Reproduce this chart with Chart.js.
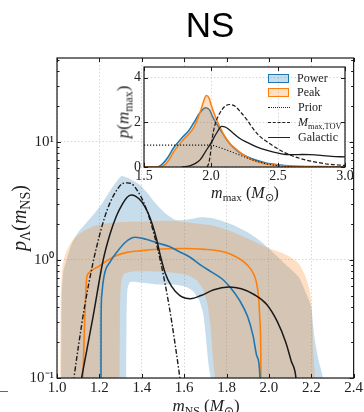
<!DOCTYPE html>
<html>
<head>
<meta charset="utf-8">
<script src="https://cdn.jsdelivr.net/npm/chart.js@4.4.1/dist/chart.umd.min.js"></script>
<style>
body { margin: 0; background: #fff; }
#wrap { position: relative; width: 364px; height: 412px; overflow: hidden; font-family: "Liberation Serif", serif; color: #222; }
canvas { position: absolute; left: 0; top: 0; }
.t { position: absolute; white-space: nowrap; line-height: 1; z-index: 5; }
.t sub { font-size: 70%; vertical-align: -0.3em; line-height: 0; font-style: normal; }
#title { font-family: "Liberation Sans", Arial, sans-serif; font-size: 35px; left: 210px; top: 7px; transform: translateX(-50%); color: #000; }
.lg { position: absolute; left: 268px; height: 14px; line-height: 14px; font-size: 12px; white-space: nowrap; z-index: 6; }
.sw { display: inline-block; width: 19px; height: 7px; vertical-align: middle; margin-right: 8px; margin-top: -2px; }
.ln { display: inline-block; width: 22px; height: 0; vertical-align: middle; margin-right: 8px; margin-top: -2px; }
#dash { position: absolute; left: 0; top: 391px; width: 8px; height: 1px; background: #666; }
</style>
</head>
<body>
<div id="wrap">
  <canvas id="mainChart" width="364" height="412"></canvas>
  <canvas id="insetChart" width="364" height="412"></canvas>
  <div id="title" class="t">NS</div>
  <div class="t" style="left:19px;top:218px;font-size:20px;transform:translate(-50%,-50%) rotate(-90deg);"><i>p</i><sub>Λ</sub>(<i>m</i><sub>NS</sub>)</div>
  <div class="t" style="left:206px;top:397px;font-size:17px;transform:translateX(-50%);"><i>m</i><sub>NS</sub> (<i>M</i><sub>⊙</sub>)</div>
  <div class="t" style="left:123px;top:112px;font-size:17px;transform:translate(-50%,-50%) rotate(-90deg);"><i>p</i>(<i>m</i><sub>max</sub>)</div>
  <div class="t" style="left:245px;top:185px;font-size:16px;transform:translateX(-50%);"><i>m</i><sub>max</sub> (<i>M</i><sub>⊙</sub>)</div>
  <div class="lg" style="top:71px;"><span class="sw" style="background:rgba(31,119,180,0.25);border:1.5px solid #1f77b4;"></span>Power</div>
  <div class="lg" style="top:85px;"><span class="sw" style="background:rgba(255,127,14,0.25);border:1.5px solid #ff7f0e;"></span>Peak</div>
  <div class="lg" style="top:100px;"><span class="ln" style="border-top:1.5px dotted #222;"></span>Prior</div>
  <div class="lg" style="top:115px;"><span class="ln" style="border-top:1.5px dashed #222;"></span><i>M</i><sub style="font-size:70%;vertical-align:-0.3em;line-height:0;">max,TOV</sub></div>
  <div class="lg" style="top:130px;"><span class="ln" style="border-top:1.5px solid #222;"></span>Galactic</div>
  <div id="dash"></div>
</div>
<script>
// valeur "sous l'axe" pour fermer les bandes et les courbes en bas (echelle log)
const BOT = 0.01;

// ticks
const mainTicksX = [1.0, 1.2, 1.4, 1.6, 1.8, 2.0, 2.2, 2.4];
const mainTicksY = [0.1, 1, 10];
const mainLabelsY = ['10⁻¹', '10⁰', '10¹'];
const mainMinorY = [0.2, 0.3, 0.4, 0.5, 0.6, 0.7, 0.8, 0.9, 2, 3, 4, 5, 6, 7, 8, 9, 20, 30, 40, 50];
const insetTicksX = [1.5, 2.0, 2.5, 3.0];
const insetTicksY = [0, 2, 4];

// graphique principal : bandes (bord haut / bord bas) [m_NS, p]
const powerBandUpper = [[1.018, BOT], [1.022, 0.5], [1.03, 0.8], [1.045, 1.0], [1.07, 1.38], [1.1, 1.72], [1.14, 2.08], [1.2, 2.8], [1.25, 3.85], [1.28, 4.6], [1.305, 5.15], [1.33, 5.0], [1.36, 4.7], [1.39, 4.35], [1.43, 3.65], [1.46, 3.1], [1.51, 2.5], [1.56, 2.18], [1.62, 2.2], [1.68, 2.3], [1.74, 2.25], [1.82, 2.02], [1.9, 1.72], [1.96, 1.45], [2.0, 1.25], [2.07, 0.95], [2.14, 0.72], [2.18, 0.5], [2.2, 0.4], [2.215, 0.22], [2.235, 0.14], [2.255, 0.1], [2.265, BOT]];
const powerBandLower = [[1.325, BOT], [1.328, 0.3], [1.332, 0.55], [1.345, 0.65], [1.4, 0.64], [1.47, 0.62], [1.55, 0.62], [1.6, 0.6], [1.64, 0.55], [1.67, 0.46], [1.69, 0.35], [1.703, 0.22], [1.715, 0.13], [1.725, 0.1], [1.73, BOT]];
const peakBandUpper = [[1.013, BOT], [1.018, 0.5], [1.026, 0.9], [1.04, 1.12], [1.06, 1.35], [1.085, 1.55], [1.13, 1.78], [1.18, 1.95], [1.23, 2.04], [1.31, 2.1], [1.4, 2.12], [1.54, 2.15], [1.65, 2.05], [1.74, 1.95], [1.82, 1.75], [1.9, 1.52], [1.98, 1.3], [2.06, 1.15], [2.1, 1.06], [2.14, 0.94], [2.17, 0.75], [2.19, 0.58], [2.2, 0.45], [2.205, 0.28], [2.21, 0.16], [2.218, 0.1], [2.225, BOT]];
const peakBandLower = [[1.293, BOT], [1.297, 0.35], [1.302, 0.62], [1.315, 0.76], [1.36, 0.8], [1.45, 0.8], [1.55, 0.78], [1.62, 0.74], [1.66, 0.67], [1.69, 0.56], [1.71, 0.42], [1.725, 0.27], [1.737, 0.14], [1.745, 0.1], [1.75, BOT]];

// graphique principal : courbes
const powerLine = [[1.207, BOT], [1.208, 0.3], [1.211, 0.5], [1.217, 0.64], [1.227, 0.8], [1.25, 0.96], [1.28, 1.15], [1.32, 1.4], [1.35, 1.53], [1.37, 1.56], [1.42, 1.5], [1.47, 1.4], [1.53, 1.3], [1.58, 1.17], [1.63, 1.05], [1.68, 0.9], [1.73, 0.79], [1.78, 0.69], [1.82, 0.58], [1.86, 0.46], [1.9, 0.33], [1.925, 0.23], [1.945, 0.15], [1.958, 0.1], [1.962, BOT]];
const peakLine = [[1.101, BOT], [1.122, 0.1], [1.14, 0.7], [1.148, 0.77], [1.17, 0.83], [1.2, 0.89], [1.23, 0.97], [1.27, 1.07], [1.33, 1.16], [1.4, 1.2], [1.5, 1.24], [1.6, 1.25], [1.7, 1.23], [1.77, 1.19], [1.82, 1.12], [1.87, 1.0], [1.9, 0.9], [1.925, 0.78], [1.94, 0.66], [1.952, 0.47], [1.958, 0.3], [1.962, 0.15], [1.964, BOT]];
const galacticLine = [[1.014, BOT], [1.116, 0.1], [1.17, 0.33], [1.218, 1.0], [1.25, 1.65], [1.28, 2.35], [1.31, 3.0], [1.33, 3.38], [1.35, 3.55], [1.37, 3.48], [1.4, 3.12], [1.43, 2.5], [1.45, 2.0], [1.47, 1.5], [1.49, 1.05], [1.51, 0.78], [1.54, 0.6], [1.58, 0.5], [1.63, 0.47], [1.68, 0.5], [1.74, 0.56], [1.81, 0.59], [1.87, 0.57], [1.93, 0.51], [1.99, 0.42], [2.04, 0.3], [2.08, 0.2], [2.105, 0.14], [2.128, 0.1], [2.17, BOT]];
const dashDotLine = [[0.99, BOT], [1.06, 0.054], [1.08, 0.1], [1.1, 0.18], [1.13, 0.4], [1.17, 0.95], [1.2, 1.6], [1.225, 2.3], [1.25, 3.05], [1.28, 3.86], [1.31, 4.45], [1.33, 4.5], [1.35, 4.45], [1.38, 3.86], [1.41, 3.05], [1.435, 2.3], [1.46, 1.6], [1.49, 0.95], [1.53, 0.4], [1.56, 0.18], [1.58, 0.1], [1.6, 0.054], [1.67, BOT]];

// encart : p(m_max)
const insetPower = [[1.5, 0], [1.6, 0], [1.64, 0.15], [1.68, 0.45], [1.72, 0.85], [1.79, 1.35], [1.83, 1.6], [1.87, 1.97], [1.92, 2.45], [1.96, 2.65], [1.99, 2.55], [2.01, 2.28], [2.05, 1.85], [2.08, 1.57], [2.12, 1.2], [2.16, 0.92], [2.21, 0.66], [2.27, 0.46], [2.34, 0.3], [2.41, 0.18], [2.5, 0.1], [2.6, 0.05], [2.8, 0.02], [3.0, 0.01]];
const insetPeak = [[1.5, 0], [1.62, 0], [1.66, 0.12], [1.69, 0.35], [1.72, 0.67], [1.79, 1.2], [1.83, 1.45], [1.87, 1.75], [1.92, 2.47], [1.945, 2.95], [1.965, 3.2], [1.985, 3.1], [2.0, 2.8], [2.03, 2.3], [2.07, 1.75], [2.1, 1.4], [2.14, 1.06], [2.18, 0.84], [2.22, 0.64], [2.27, 0.44], [2.31, 0.31], [2.38, 0.18], [2.46, 0.1], [2.55, 0.05], [2.7, 0.01], [3.0, 0]];
const insetPrior = [[1.5, 0.98], [1.7, 0.98], [1.9, 0.98], [2.0, 0.98], [2.05, 0.9], [2.1, 0.8], [2.16, 0.66], [2.22, 0.52], [2.28, 0.38], [2.34, 0.26], [2.4, 0.16], [2.46, 0.09], [2.52, 0.04], [2.6, 0.01], [2.7, 0], [3.0, 0]];
const insetTOV = [[1.97, 0], [1.985, 0.2], [2.0, 0.8], [2.01, 1.3], [2.03, 1.9], [2.06, 2.35], [2.1, 2.7], [2.14, 2.8], [2.18, 2.72], [2.22, 2.47], [2.27, 2.1], [2.31, 1.75], [2.36, 1.4], [2.42, 1.12], [2.48, 0.88], [2.54, 0.67], [2.62, 0.47], [2.71, 0.31], [2.8, 0.2], [2.87, 0.13], [2.95, 0.09], [3.0, 0.07]];
const insetGalactic = [[1.78, 0], [1.84, 0.05], [1.88, 0.15], [1.92, 0.33], [1.96, 0.7], [2.0, 1.08], [2.04, 1.5], [2.08, 1.82], [2.11, 1.78], [2.16, 1.55], [2.21, 1.3], [2.27, 1.1], [2.34, 0.9], [2.42, 0.74], [2.5, 0.62], [2.56, 0.56], [2.62, 0.55], [2.68, 0.56], [2.74, 0.55], [2.82, 0.52], [2.9, 0.48], [3.0, 0.45]];

const BLUE = '#1f77b4';
const ORANGE = '#ff7f0e';
const BLUE_FILL = 'rgba(31,119,180,0.25)';
const ORANGE_FILL = 'rgba(255,127,14,0.25)';
const INK = '#1a1a1a';
const GRID = 'rgba(0,0,0,0.2)';
const TICK_FONT = 'Liberation Serif';

function pts(arr) {
    return arr.map(p => ({ x: p[0], y: p[1] }));
}

// contour ferme : bord haut de gauche a droite puis bord bas a l'envers
function bande(upper, lower) {
    return pts(upper.concat(lower.slice().reverse()));
}

function courbe(data, color, width, dash, order) {
    return {
        data: pts(data),
        borderColor: color,
        borderWidth: width,
        borderDash: dash,
        pointRadius: 0,
        fill: false,
        cubicInterpolationMode: 'monotone',
        order: order
    };
}

// cadre + petits ticks vers l'interieur (style matplotlib)
const cadreTicks = {
    id: 'cadreTicks',
    afterDatasetsDraw(chart, args, o) {
        const { ctx, chartArea: a } = chart;
        const xs = chart.scales.x, ys = chart.scales.y;
        ctx.save();
        ctx.strokeStyle = INK;
        ctx.lineWidth = 1;
        ctx.beginPath();
        o.xMajor.forEach(v => {
            const px = Math.round(xs.getPixelForValue(v)) + 0.5;
            ctx.moveTo(px, a.bottom); ctx.lineTo(px, a.bottom - 4);
            ctx.moveTo(px, a.top); ctx.lineTo(px, a.top + 4);
        });
        o.yMajor.forEach(v => {
            const py = Math.round(ys.getPixelForValue(v)) + 0.5;
            ctx.moveTo(a.left, py); ctx.lineTo(a.left + 4, py);
            ctx.moveTo(a.right, py); ctx.lineTo(a.right - 4, py);
        });
        (o.yMinor || []).forEach(v => {
            const py = Math.round(ys.getPixelForValue(v)) + 0.5;
            ctx.moveTo(a.left, py); ctx.lineTo(a.left + 2.5, py);
            ctx.moveTo(a.right, py); ctx.lineTo(a.right - 2.5, py);
        });
        ctx.stroke();
        ctx.lineWidth = 1.2;
        ctx.strokeRect(a.left, a.top, a.right - a.left, a.bottom - a.top);
        ctx.restore();
    }
};

// fond blanc de l'encart
const fondBlanc = {
    id: 'fondBlanc',
    beforeDraw(chart) {
        const { ctx, chartArea: a } = chart;
        ctx.save();
        ctx.fillStyle = '#fff';
        ctx.fillRect(a.left, a.top, a.right - a.left, a.bottom - a.top);
        ctx.restore();
    }
};

// ---- graphique principal ----
new Chart(document.getElementById('mainChart'), {
    type: 'line',
    data: {
        datasets: [
            courbe(dashDotLine, INK, 1.4, [5, 2, 1.5, 2], 1),
            courbe(galacticLine, INK, 1.5, [], 2),
            courbe(powerLine, BLUE, 1.6, [], 3),
            courbe(peakLine, ORANGE, 1.6, [], 4),
            {
                data: bande(peakBandUpper, peakBandLower),
                fill: 'shape',
                backgroundColor: ORANGE_FILL,
                borderWidth: 0,
                pointRadius: 0,
                tension: 0.2,
                order: 9
            },
            {
                data: bande(powerBandUpper, powerBandLower),
                fill: 'shape',
                backgroundColor: BLUE_FILL,
                borderWidth: 0,
                pointRadius: 0,
                tension: 0.2,
                order: 10
            }
        ]
    },
    options: {
        responsive: false,
        animation: false,
        events: [],
        layout: { padding: { left: 0, top: 58, right: 9, bottom: 0 } },
        plugins: {
            legend: { display: false },
            tooltip: { enabled: false },
            cadreTicks: { xMajor: mainTicksX, yMajor: mainTicksY, yMinor: mainMinorY }
        },
        scales: {
            x: {
                type: 'linear',
                min: 1.0,
                max: 2.4,
                afterBuildTicks: s => { s.ticks = mainTicksX.map(v => ({ value: v })); },
                afterFit: s => { s.height = 34; },
                ticks: {
                    callback: v => v.toFixed(1),
                    font: { family: TICK_FONT, size: 15 },
                    color: '#222',
                    padding: 1,
                    maxRotation: 0,
                    autoSkip: false
                },
                grid: { color: GRID, lineWidth: 0.8, drawTicks: false },
                border: { display: false, dash: [1.5, 2] }
            },
            y: {
                type: 'logarithmic',
                min: 0.1,
                max: 51.5,
                afterBuildTicks: s => { s.ticks = mainTicksY.map(v => ({ value: v })); },
                afterFit: s => { s.width = 57; },
                ticks: {
                    callback: (v, i) => mainLabelsY[i],
                    font: { family: TICK_FONT, size: 15 },
                    color: '#222',
                    padding: 3,
                    autoSkip: false
                },
                grid: { color: GRID, lineWidth: 0.8, drawTicks: false },
                border: { display: false, dash: [1.5, 2] }
            }
        }
    },
    plugins: [cadreTicks]
});

// ---- encart ----
const insetDatasets = [
    courbe(insetGalactic, INK, 1.3, [], 1),
    courbe(insetTOV, INK, 1.2, [4, 2], 2),
    courbe(insetPrior, INK, 1.1, [1.2, 1.8], 3),
    Object.assign(courbe(insetPeak, ORANGE, 1.5, [], 4), { fill: 'origin', backgroundColor: ORANGE_FILL }),
    Object.assign(courbe(insetPower, BLUE, 1.5, [], 5), { fill: 'origin', backgroundColor: BLUE_FILL })
];

new Chart(document.getElementById('insetChart'), {
    type: 'line',
    data: { datasets: insetDatasets },
    options: {
        responsive: false,
        animation: false,
        events: [],
        layout: { padding: { left: 114, top: 67, right: 19, bottom: 227 } },
        plugins: {
            legend: { display: false },
            tooltip: { enabled: false },
            cadreTicks: { xMajor: insetTicksX, yMajor: insetTicksY }
        },
        scales: {
            x: {
                type: 'linear',
                min: 1.5,
                max: 3.0,
                afterBuildTicks: s => { s.ticks = insetTicksX.map(v => ({ value: v })); },
                afterFit: s => { s.height = 18; },
                ticks: {
                    callback: v => v.toFixed(1),
                    font: { family: TICK_FONT, size: 14 },
                    color: '#222',
                    padding: 1,
                    maxRotation: 0,
                    autoSkip: false
                },
                grid: { color: GRID, lineWidth: 0.8, drawTicks: false },
                border: { display: false, dash: [1.5, 2] }
            },
            y: {
                type: 'linear',
                min: 0,
                max: 4.48,
                afterBuildTicks: s => { s.ticks = insetTicksY.map(v => ({ value: v })); },
                afterFit: s => { s.width = 30; },
                ticks: {
                    callback: v => String(v),
                    font: { family: TICK_FONT, size: 14 },
                    color: '#222',
                    padding: 3,
                    autoSkip: false
                },
                grid: { color: GRID, lineWidth: 0.8, drawTicks: false },
                border: { display: false, dash: [1.5, 2] }
            }
        }
    },
    plugins: [fondBlanc, cadreTicks]
});
</script>
</body>
</html>
